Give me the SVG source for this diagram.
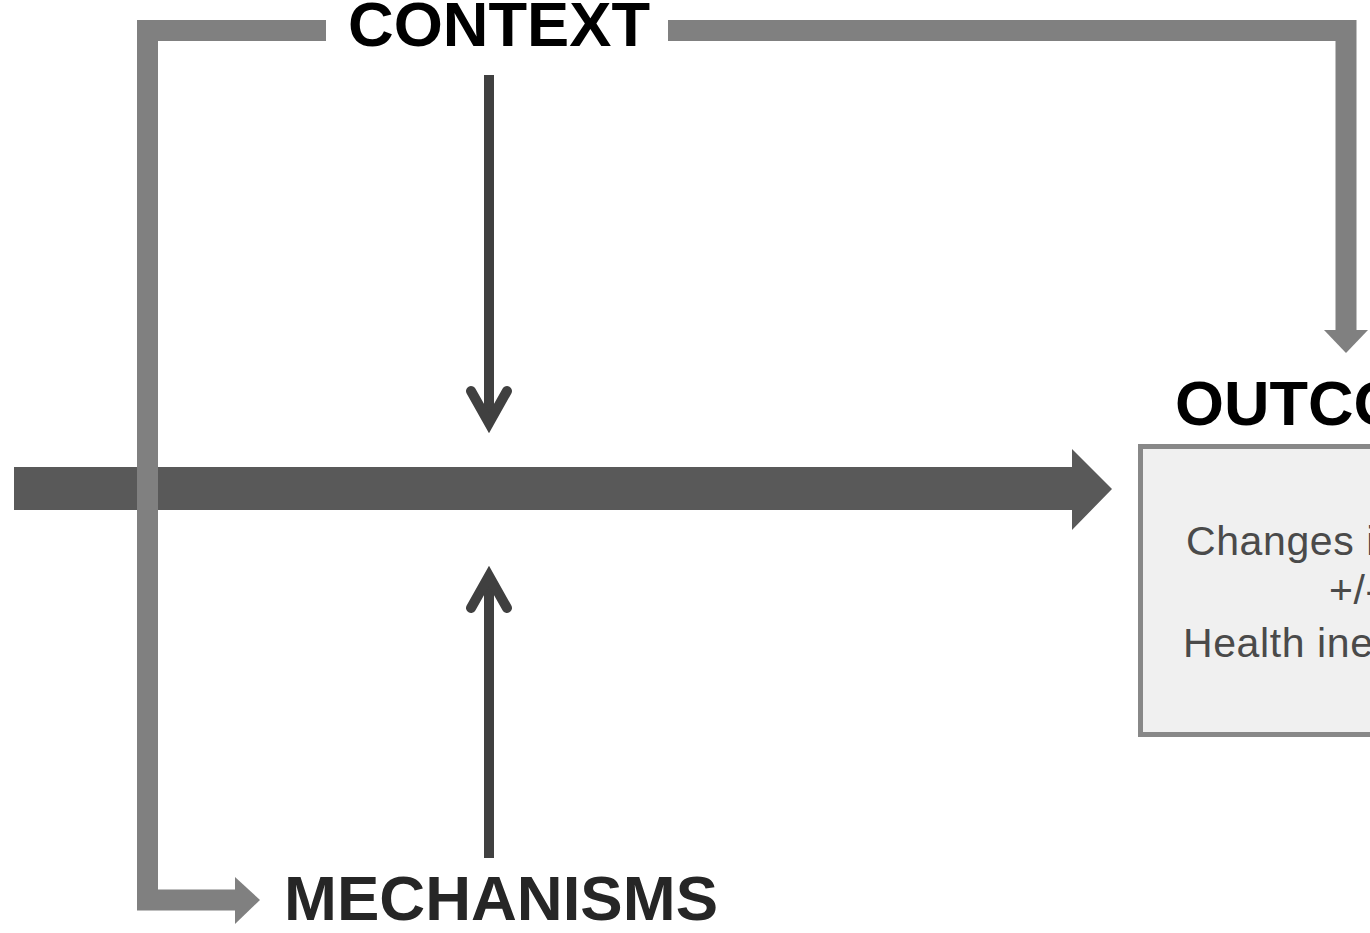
<svg xmlns="http://www.w3.org/2000/svg" width="1370" height="933" viewBox="0 0 1370 933">
<style>
.gray{fill:none;stroke:#808080;stroke-width:21;stroke-linejoin:miter}
.grayhead{fill:#808080}
.thin{fill:none;stroke:#404040;stroke-width:10}
.chev{fill:none;stroke:#404040;stroke-width:10;stroke-linejoin:miter;stroke-linecap:round}
.title{font-family:"Liberation Sans",Arial,sans-serif;font-weight:bold;font-size:63px}
.body{font-family:"Liberation Sans",Arial,sans-serif;font-size:41px;letter-spacing:0.6px;fill:#4a4a4a}
</style>
<rect width="1370" height="933" fill="#ffffff"/>
<g id="connectors">
  <path d="M14 467 H1072 V449 L1112 489 L1072 530 V510 H14 Z" fill="#595959"/>
  <path class="gray" d="M326 30.5 H147.5 V900 H236"/>
  <polygon class="grayhead" points="235,877 260,900 235,924"/>
  <path class="gray" d="M668 30.5 H1346 V331"/>
  <polygon class="grayhead" points="1324,330 1368,330 1346,353"/>
  <line class="thin" x1="489" y1="75" x2="489" y2="420"/>
  <polyline class="chev" points="471,391 489,423 507,391"/>
  <line class="thin" x1="489" y1="858" x2="489" y2="580"/>
  <polyline class="chev" points="471,608 489,576 507,608"/>
</g>
<g id="context">
  <text class="title" x="348" y="46" fill="#000" textLength="302" lengthAdjust="spacingAndGlyphs">CONTEXT</text>
</g>
<g id="mechanisms">
  <text class="title" x="284" y="920" fill="#262626" textLength="434" lengthAdjust="spacingAndGlyphs">MECHANISMS</text>
</g>
<g id="outcomes">
  <text class="title" x="1175" y="425" fill="#000">OUTCOMES</text>
  <rect x="1140.5" y="446.5" width="300" height="288" fill="#f0f0f0" stroke="#888" stroke-width="5"/>
  <text class="body" x="1186" y="555">Changes in health</text>
  <text class="body" x="1329" y="604">+/-</text>
  <text class="body" x="1183" y="657">Health inequalities</text>
</g>
</svg>
